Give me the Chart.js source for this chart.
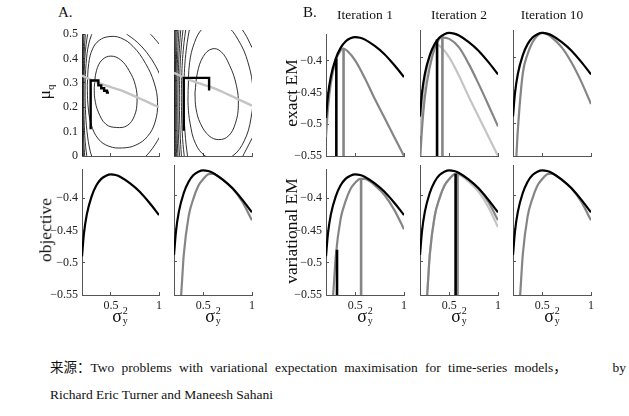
<!DOCTYPE html>
<html><head><meta charset="utf-8">
<script src="https://cdn.jsdelivr.net/npm/chart.js@4.4.0/dist/chart.umd.min.js"></script>
<style>
html,body{margin:0;padding:0;background:#fff;}
body{width:629px;height:416px;position:relative;overflow:hidden;font-family:"Liberation Serif","Noto Sans CJK SC",serif;color:#111;}
canvas{position:absolute;}
.t{position:absolute;white-space:nowrap;line-height:1;}
.rot{position:absolute;white-space:nowrap;line-height:1;transform:translate(-50%,-50%) rotate(-90deg);font-size:17.5px;}
.sx{position:absolute;top:306px;transform:translateX(-50%);display:flex;align-items:center;line-height:1;}
.sg{font-size:18px;}
.st{display:inline-flex;flex-direction:column;font-size:10px;line-height:10px;margin-left:1px;}
.cap{position:absolute;left:50px;font-size:13.5px;line-height:1;white-space:nowrap;}
.l1{width:576px;display:flex;justify-content:space-between;}
.ws{word-spacing:3.8px;}
</style></head><body>
<script>
// ---------- data ----------
const xTicks = [0.5, 1];
const muTicks = [0, 0.1, 0.2, 0.3, 0.4, 0.5];
const objTicks = [-0.55, -0.5, -0.45, -0.4];

// objective (black) curve
const xsObj = [0.2,0.22,0.25,0.3,0.35,0.4,0.45,0.5,0.55,0.6,0.7,0.8,0.9,1.0];
const objective = [-0.49,-0.455,-0.425,-0.397,-0.38,-0.37,-0.365,-0.363,-0.364,-0.367,-0.377,-0.39,-0.407,-0.426];

// variational free energy curves
const xsVar = [0.26,0.28,0.3,0.35,0.4,0.45,0.5,0.55,0.6,0.65,0.7,0.8,0.9,1.0];
const varConv  = [-0.58,-0.535,-0.49,-0.432,-0.405,-0.386,-0.376,-0.369,-0.368,-0.372,-0.377,-0.39,-0.41,-0.438];
const varIter1 = [-0.58,-0.535,-0.49,-0.432,-0.405,-0.386,-0.376,-0.37,-0.37,-0.374,-0.38,-0.395,-0.418,-0.448];

// exact EM bounds
const xsExact = [0.2,0.22,0.25,0.3,0.35,0.38,0.42,0.5,0.6,0.7,0.8,0.9,1.0];
const exactIter1 = [-0.52,-0.475,-0.435,-0.4,-0.384,-0.381,-0.385,-0.4,-0.428,-0.46,-0.49,-0.52,-0.55];
const exactIter2 = [-0.56,-0.51,-0.46,-0.415,-0.386,-0.376,-0.37,-0.372,-0.385,-0.41,-0.44,-0.472,-0.505];
const xsExact10 = [0.22,0.235,0.25,0.3,0.35,0.4,0.45,0.5,0.55,0.6,0.7,0.8,0.9,1.0];
const exactIter10 = [-0.6,-0.55,-0.51,-0.425,-0.395,-0.377,-0.367,-0.363,-0.365,-0.37,-0.385,-0.408,-0.437,-0.471];

// vertical markers [x, top value]
const vB1Top = [[0.306,-0.397,'k'],[0.38,-0.381,'g']];
const vB2Top = [[0.375,-0.373,'k'],[0.43,-0.368,'g']];
const vB1Bot = [[0.313,-0.48,'k'],[0.56,-0.369,'g']];
const vB2Bot = [[0.565,-0.368,'k'],[0.585,-0.368,'g']];

// gray ridge line in contour plots (sigma^2, mu)
const ridge = [[0.2,0.33],[0.3,0.312],[0.4,0.296],[0.5,0.283],[0.6,0.27],[0.7,0.254],[0.8,0.236],[0.9,0.218],[1.0,0.2]];
// EM trajectories
const pathA1 = [[0.29,0.11],[0.29,0.31],[0.37,0.31],[0.37,0.29],[0.4,0.29],[0.4,0.278],[0.43,0.278],[0.43,0.268],[0.46,0.268],[0.46,0.26],[0.48,0.26]];
const pathA2 = [[0.3,0.1],[0.3,0.31],[0.56,0.31],[0.56,0.26]];

// contours, panel A left
const cA1_1 = [[0.327,0.28],[0.35,0.35],[0.41,0.395],[0.5,0.41],[0.6,0.395],[0.69,0.35],[0.755,0.29],[0.772,0.225],[0.745,0.165],[0.67,0.125],[0.56,0.117],[0.45,0.13],[0.37,0.18],[0.333,0.235],[0.327,0.28]];
const cA1_2 = [[0.255,0.29],[0.27,0.38],[0.31,0.44],[0.38,0.475],[0.48,0.49],[0.6,0.485],[0.73,0.45],[0.86,0.38],[0.95,0.3],[0.985,0.22],[0.96,0.14],[0.88,0.08],[0.76,0.045],[0.62,0.033],[0.48,0.04],[0.37,0.07],[0.295,0.13],[0.262,0.21],[0.255,0.29]];
const cA1_3a = [[0.33,0.53],[0.27,0.46],[0.243,0.38],[0.233,0.29],[0.236,0.19],[0.252,0.1],[0.285,0.02],[0.32,-0.02]];
const cA1_3b = [[0.58,0.53],[0.65,0.505],[0.78,0.465],[0.9,0.41],[0.99,0.35],[1.04,0.3]];
const cA1_3c = [[0.82,-0.02],[0.93,0.03],[1.04,0.1]];
const cA1_4a = [[0.27,0.53],[0.235,0.43],[0.222,0.33],[0.219,0.25],[0.222,0.15],[0.233,0.06],[0.255,-0.02]];
const cA1_4b = [[0.83,0.53],[0.9,0.505],[0.98,0.47],[1.04,0.44]];
const cA1_5 = [[0.24,0.53],[0.222,0.42],[0.213,0.32],[0.211,0.24],[0.213,0.14],[0.22,0.05],[0.232,-0.02]];
const cA1_6 = [[0.222,0.53],[0.212,0.4],[0.207,0.28],[0.207,0.17],[0.21,0.07],[0.216,-0.02]];
const cA1_7 = [[0.21,0.53],[0.205,0.38],[0.203,0.24],[0.204,0.1],[0.207,-0.02]];

// contours, panel A right
const cA2_1 = [[0.415,0.25],[0.44,0.33],[0.5,0.395],[0.59,0.425],[0.68,0.415],[0.77,0.36],[0.84,0.28],[0.86,0.2],[0.83,0.13],[0.76,0.08],[0.66,0.065],[0.56,0.08],[0.47,0.13],[0.425,0.19],[0.415,0.25]];
const cA2_2 = [[0.345,0.26],[0.36,0.37],[0.41,0.45],[0.49,0.505],[0.6,0.53],[0.73,0.52],[0.86,0.46],[0.96,0.37],[1.01,0.26],[0.99,0.15],[0.92,0.06],[0.8,0.0],[0.65,-0.015],[0.52,0.0],[0.42,0.05],[0.365,0.13],[0.345,0.2],[0.345,0.26]];
const cA2_3 = [[0.84,0.53],[0.92,0.49],[1.0,0.43],[1.04,0.39]];
const cA2_4 = [[0.88,-0.02],[0.96,0.04],[1.04,0.1]];
const cA2_L1 = [[0.37,0.53],[0.325,0.42],[0.303,0.3],[0.302,0.18],[0.318,0.07],[0.345,-0.02]];
const cA2_L2 = [[0.33,0.53],[0.295,0.42],[0.278,0.3],[0.277,0.18],[0.288,0.07],[0.31,-0.02]];
const cA2_L3 = [[0.3,0.53],[0.272,0.42],[0.258,0.3],[0.256,0.18],[0.265,0.07],[0.28,-0.02]];
const cA2_L4 = [[0.275,0.53],[0.253,0.41],[0.242,0.29],[0.241,0.17],[0.248,0.06],[0.26,-0.02]];
const cA2_L5 = [[0.255,0.53],[0.238,0.4],[0.229,0.28],[0.229,0.16],[0.235,0.05],[0.243,-0.02]];
const cA2_L6 = [[0.238,0.53],[0.226,0.4],[0.22,0.27],[0.22,0.14],[0.224,0.04],[0.229,-0.02]];
const cA2_L7 = [[0.224,0.53],[0.216,0.38],[0.212,0.25],[0.212,0.12],[0.215,-0.02]];
const cA2_L8 = [[0.213,0.53],[0.208,0.36],[0.206,0.22],[0.207,0.08],[0.209,-0.02]];

// ---------- drawing ----------
const BLACK='#000', GRAY='#858585', LIGHT='#c4c4c4', AX='#555';
const PL=48, PT=10, PR=10, PB=24;
const fmt = v => (v<0?'\u2212':'') + String(Math.abs(+v.toFixed(3)));

function pts(xs, ys){ return xs.map((x,i)=>({x:x, y:ys[i]})); }
function curve(xs, ys, color, w){ return {data:pts(xs,ys), showLine:true, borderColor:color, borderWidth:w||2.2, pointRadius:0, cubicInterpolationMode:'monotone'}; }
function path(arr, color, w, tension){ return {data:arr.map(p=>({x:p[0],y:p[1]})), showLine:true, borderColor:color, borderWidth:w, pointRadius:0, tension:tension||0}; }
function vlines(list, bottom){ return list.map(v=>path([[v[0],bottom],[v[0],v[1]]], v[2]==='k'?BLACK:GRAY, 2.6, 0)); }

function mk(area, datasets, o){
  const c=document.createElement('canvas');
  const w=area[1]-area[0]+PL+PR, h=area[3]-area[2]+PT+PB;
  c.width=w; c.height=h;
  c.style.left=(area[0]-PL)+'px'; c.style.top=(area[2]-PT)+'px';
  c.style.width=w+'px'; c.style.height=h+'px';
  document.body.appendChild(c);
  const tickFont={family:'"Liberation Serif", serif', size:12};
  new Chart(c, {type:'scatter', data:{datasets:datasets}, options:{
    responsive:false, animation:false, devicePixelRatio:1,
    layout:{padding:{left:0,top:PT,right:PR,bottom:0}},
    plugins:{legend:{display:false}, tooltip:{enabled:false}},
    events:[],
    scales:{
      x:{type:'linear', min:0.2, max:1,
         afterFit:s=>{s.height=PB;},
         afterBuildTicks:s=>{s.ticks=xTicks.map(v=>({value:v}));},
         ticks:{display:!!o.xl, font:tickFont, color:'#222', padding:7, maxRotation:0, callback:v=>fmt(v)},
         grid:{drawOnChartArea:false, tickLength:-3, color:AX},
         border:{color:AX, width:1}},
      y:{type:'linear', min:o.ymin, max:o.ymax,
         afterFit:s=>{s.width=PL;},
         afterBuildTicks:s=>{s.ticks=o.yt.map(v=>({value:v}));},
         ticks:{display:!!o.yl, font:tickFont, color:'#222', padding:7, callback:v=>fmt(v)},
         grid:{drawOnChartArea:false, tickLength:-3, color:AX},
         border:{color:AX, width:1}}
    }
  }});
}

const colA1=[82,159], colA2=[174,252], colB1=[326,404], colB2=[420,498], colB3=[513,591];
const rowT=[30,156], rowB=[165,295];
const A=(c,r)=>[c[0],c[1],r[0],r[1]];
const cOpt={ymin:0,ymax:0.5,yt:muTicks};
const eOpt={ymin:-0.55,ymax:-0.3585,yt:objTicks};
const bOpt={ymin:-0.55,ymax:-0.355,yt:objTicks, xl:true};
const cw=0.9, CC='#1a1a1a';

// A top-left contour
mk(A(colA1,rowT), [
  path(pathA1,BLACK,2.4,0), path(ridge,LIGHT,2.4,0.3),
  ...[cA1_1,cA1_2,cA1_3a,cA1_3b,cA1_3c,cA1_4a,cA1_4b,cA1_5,cA1_6,cA1_7].map(a=>path(a,CC,cw,0.4))
], Object.assign({yl:true},cOpt));
// A top-right contour
mk(A(colA2,rowT), [
  path(pathA2,BLACK,2.4,0), path(ridge,LIGHT,2.4,0.3),
  ...[cA2_1,cA2_2,cA2_3,cA2_4,cA2_L1,cA2_L2,cA2_L3,cA2_L4,cA2_L5,cA2_L6,cA2_L7,cA2_L8].map(a=>path(a,CC,cw,0.4))
], cOpt);
// A bottom
mk(A(colA1,rowB), [curve(xsObj,objective,BLACK)], Object.assign({},bOpt,{yl:true}));
mk(A(colA2,rowB), [curve(xsObj,objective,BLACK), curve(xsVar,varConv,GRAY)], bOpt);
// B top (exact EM)
mk(A(colB1,rowT), [curve(xsObj,objective,BLACK), ...vlines(vB1Top,-0.6), curve(xsExact,exactIter1,GRAY)], Object.assign({yl:true},eOpt));
mk(A(colB2,rowT), [curve(xsObj,objective,BLACK), ...vlines(vB2Top,-0.6), curve(xsExact,exactIter2,GRAY), curve(xsExact,exactIter1,LIGHT)], eOpt);
mk(A(colB3,rowT), [curve(xsObj,objective,BLACK), curve(xsExact10,exactIter10,GRAY)], eOpt);
// B bottom (variational EM)
mk(A(colB1,rowB), [curve(xsObj,objective,BLACK), ...vlines(vB1Bot,-0.6), curve(xsVar,varIter1,GRAY)], Object.assign({},bOpt,{yl:true}));
mk(A(colB2,rowB), [curve(xsObj,objective,BLACK), ...vlines(vB2Bot,-0.6), curve(xsVar,varConv,GRAY), curve(xsVar,varIter1,LIGHT)], bOpt);
mk(A(colB3,rowB), [curve(xsObj,objective,BLACK), curve(xsVar,varConv,GRAY)], bOpt);
</script>

<div class="t" style="left:58px;top:5px;font-size:15px;">A.</div>
<div class="t" style="left:303px;top:5px;font-size:15px;">B.</div>
<div class="t" style="left:365px;top:8px;font-size:13.5px;transform:translateX(-50%);">Iteration 1</div>
<div class="t" style="left:459px;top:8px;font-size:13.5px;transform:translateX(-50%);">Iteration 2</div>
<div class="t" style="left:552px;top:8px;font-size:13.5px;transform:translateX(-50%);">Iteration 10</div>

<div class="rot" style="left:46px;top:92px;">μ<sub style="font-size:11px;">q</sub></div>
<div class="rot" style="left:46px;top:230px;">objective</div>
<div class="rot" style="left:292px;top:93px;">exact EM</div>
<div class="rot" style="left:292px;top:231px;">variational EM</div>

<div class="sx" style="left:120px;"><span class="sg">σ</span><span class="st"><span>2</span><span>y</span></span></div>
<div class="sx" style="left:213px;"><span class="sg">σ</span><span class="st"><span>2</span><span>y</span></span></div>
<div class="sx" style="left:365px;"><span class="sg">σ</span><span class="st"><span>2</span><span>y</span></span></div>
<div class="sx" style="left:459px;"><span class="sg">σ</span><span class="st"><span>2</span><span>y</span></span></div>
<div class="sx" style="left:552px;"><span class="sg">σ</span><span class="st"><span>2</span><span>y</span></span></div>

<div class="cap l1" style="top:361px;"><span class="ws">来源：Two problems with variational expectation maximisation for time-series models，</span><span>by</span></div>
<div class="cap" style="top:388px;">Richard Eric Turner and Maneesh Sahani</div>
</body></html>
